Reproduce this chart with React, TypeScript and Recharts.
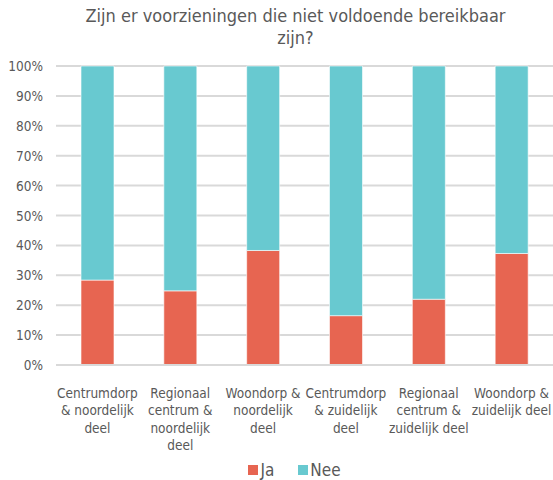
import React from 'react';
import { BarChart, Bar, XAxis, YAxis, CartesianGrid, Legend } from 'recharts';

const categories = [
  'Centrumdorp\n& noordelijk\ndeel',
  'Regionaal\ncentrum &\nnoordelijk\ndeel',
  'Woondorp &\nnoordelijk\ndeel',
  'Centrumdorp\n& zuidelijk\ndeel',
  'Regionaal\ncentrum &\nzuidelijk deel',
  'Woondorp &\nzuidelijk deel',
];
const ja = [28.4, 24.8, 38.3, 16.5, 22.0, 37.3];
const nee = [71.6, 75.2, 61.7, 83.5, 78.0, 62.7];
const yTicks = [0, 10, 20, 30, 40, 50, 60, 70, 80, 90, 100];

const data = categories.map((name, i) => ({ name, Ja: ja[i], Nee: nee[i] }));

const FONT = "'DejaVu Sans Condensed', 'DejaVu Sans', sans-serif";
const TEXT = '#595959';
const RED = '#E76551';
const TEAL = '#68C9D0';
const GRID = '#D9D9D9';

function XTick({ x, y, payload }: any) {
  const lines = String(payload.value).split('\n');
  return (
    <text x={x} y={y + 20} textAnchor="middle" fill={TEXT} fontSize={13.5} fontFamily={FONT}>
      {lines.map((l, i) => (
        <tspan key={i} x={x} dy={i === 0 ? 0 : 17.3} dominantBaseline="central">
          {l}
        </tspan>
      ))}
    </text>
  );
}

function YTick({ y, payload }: any) {
  return (
    <text x={43} y={y} textAnchor="end" dominantBaseline="central" fill={TEXT} fontSize={13.5} fontFamily={FONT}>
      {payload.value}%
    </text>
  );
}

function LegendContent() {
  const items = [
    { label: 'Ja', color: RED },
    { label: 'Nee', color: TEAL },
  ];
  return (
    <div
      style={{
        display: 'flex',
        justifyContent: 'center',
        alignItems: 'center',
        paddingLeft: 36,
        paddingTop: 20,
        height: 20,
        fontFamily: FONT,
        fontSize: 17,
        color: TEXT,
      }}
    >
      {items.map((it, i) => (
        <div key={it.label} style={{ display: 'flex', alignItems: 'center', marginLeft: i === 0 ? 0 : 24 }}>
          <span style={{ width: 10, height: 10, background: it.color, marginRight: 2 }} />
          <span>{it.label}</span>
        </div>
      ))}
    </div>
  );
}

export default function App() {
  return (
    <div style={{ position: 'absolute', left: 0, top: 0, width: 553, height: 480, background: '#fff' }}>
      <div
        style={{
          position: 'absolute',
          left: 38,
          top: 5,
          width: 515,
          textAlign: 'center',
          fontFamily: FONT,
          fontSize: 18,
          lineHeight: '22px',
          color: TEXT,
        }}
      >
        Zijn er voorzieningen die niet voldoende bereikbaar
        <br />
        zijn?
      </div>
      <BarChart width={553} height={480} data={data} margin={{ top: 66, right: 0, left: 0, bottom: 0 }}>
        <CartesianGrid vertical={false} stroke={GRID} strokeWidth={2} />
        <XAxis
          dataKey="name"
          interval={0}
          height={75}
          tick={<XTick />}
          tickLine={false}
          axisLine={{ stroke: GRID, strokeWidth: 2 }}
        />
        <YAxis
          width={56}
          domain={[0, 100]}
          ticks={yTicks}
          tick={<YTick />}
          axisLine={false}
          tickLine={false}
        />
        <Legend verticalAlign="bottom" height={40} content={<LegendContent />} wrapperStyle={{ left: 0, width: 553 }} />
        <Bar dataKey="Ja" stackId="a" fill={RED} stroke="#fff" strokeWidth={0.6} barSize={33} isAnimationActive={false} />
        <Bar dataKey="Nee" stackId="a" fill={TEAL} stroke="#fff" strokeWidth={0.6} barSize={33} isAnimationActive={false} />
      </BarChart>
    </div>
  );
}
